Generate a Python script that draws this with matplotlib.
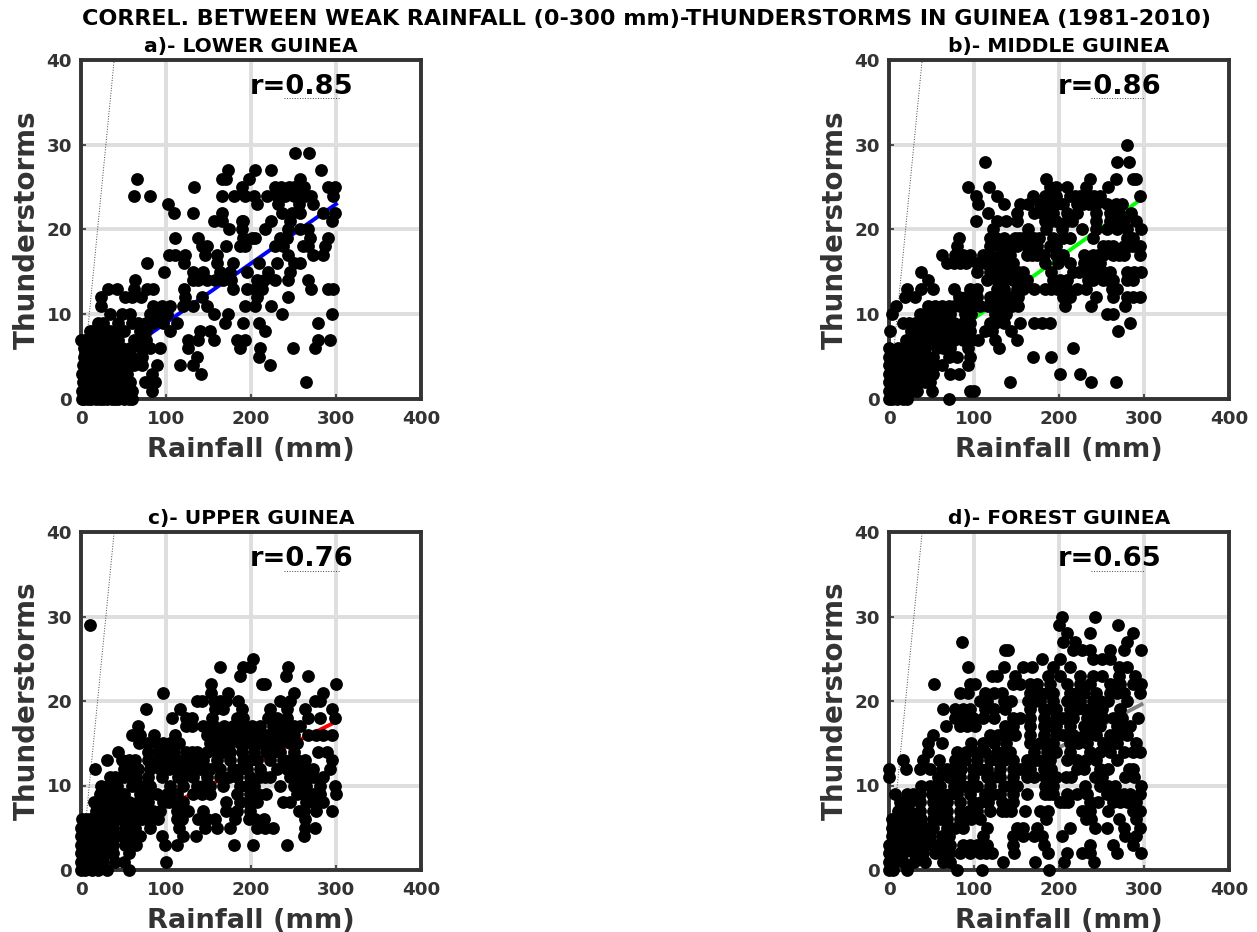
import matplotlib
matplotlib.use("Agg")
import matplotlib.pyplot as plt

W, H = 1257, 932
suptitle = "CORREL. BETWEEN WEAK RAINFALL (0-300 mm)-THUNDERSTORMS IN GUINEA (1981-2010)"
titles = ["a)- LOWER GUINEA", "b)- MIDDLE GUINEA", "c)- UPPER GUINEA", "d)- FOREST GUINEA"]
r_labels = ["r=0.85", "r=0.86", "r=0.76", "r=0.65"]
line_colors = ["#0000ff", "#00ff00", "#ff0000", "#808080"]
x_ticks = [0, 100, 200, 300, 400]
y_ticks = [0, 10, 20, 30, 40]

# Each list holds the rainfall values read at thunderstorm counts
lower_levels = [29, 27, 26, 25, 24, 23, 22, 21, 20, 19, 18, 17, 16, 15, 14, 13, 12, 11, 10, 9, 8, 7, 6, 5, 4, 3, 2, 1, 0]
lower_x = [
    [252, 268],
    [173, 205, 224, 282],
    [66, 166, 171, 198, 258],
    [133, 189, 228, 235, 245, 250, 255, 262, 291, 299],
    [62, 81, 166, 180, 193, 203, 219, 230, 240, 250, 258, 263, 271, 297],
    [102, 207, 232, 256, 273],
    [109, 132, 166, 236, 248, 258, 285, 299],
    [156, 166, 189, 191, 223, 246, 295],
    [174, 189, 216, 244, 258, 267],
    [111, 138, 191, 201, 205, 234, 242, 269, 291],
    [142, 148, 170, 187, 193, 228, 238, 261, 267, 287],
    [103, 111, 122, 146, 160, 244, 273, 285],
    [78, 121, 160, 179, 209, 230, 250, 258],
    [98, 132, 144, 164, 175, 195, 220, 246],
    [64, 132, 138, 148, 158, 167, 177, 207, 215, 228, 244, 267],
    [32, 42, 62, 78, 85, 121, 179, 195, 205, 213, 271, 291, 297],
    [24, 52, 60, 71, 122, 142, 207, 243],
    [24, 85, 95, 105, 120, 132, 148, 193, 205, 223],
    [34, 48, 58, 81, 89, 101, 156, 173, 236, 295],
    [20, 26, 44, 60, 67, 77, 85, 97, 113, 169, 191, 209, 279],
    [11, 18, 26, 34, 50, 69, 77, 105, 140, 152, 216],
    [0, 9, 16, 26, 34, 44, 69, 77, 126, 138, 156, 183, 193, 279, 293],
    [3, 13, 22, 32, 42, 58, 71, 81, 93, 126, 187, 211, 249, 275],
    [3, 10, 18, 28, 36, 46, 60, 72, 136, 209],
    [2, 8, 16, 24, 32, 40, 50, 58, 72, 89, 116, 132, 222],
    [1, 6, 14, 22, 30, 38, 46, 54, 83, 141],
    [2, 8, 14, 20, 28, 36, 44, 52, 75, 87, 265],
    [1, 5, 12, 18, 26, 34, 42, 50, 60, 83],
    [1, 4, 8, 12, 18, 22, 30, 36, 44, 50, 56],
]
lower_hidden_levels = [8, 7, 6, 5, 4, 3, 2, 1, 0]
lower_hidden_x = [
    [14, 30, 42],
    [5, 21, 39, 62],
    [8, 27, 48],
    [6, 23, 41, 52],
    [5, 20, 36, 46, 62],
    [3, 18, 34, 50],
    [5, 24, 40, 58],
    [8, 30, 46],
    [26, 40, 60],
]

middle_levels = [30, 28, 26, 25, 24, 23, 22, 21, 20, 19, 18, 17, 16, 15, 14, 13, 12, 11, 10, 9, 8, 7, 6, 5, 4, 3, 2, 1, 0]
middle_x = [
    [280],
    [113, 268, 282],
    [185, 236, 267, 287, 291],
    [93, 118, 189, 197, 209, 232, 258],
    [102, 127, 169, 183, 197, 213, 225, 236, 248, 295],
    [105, 135, 154, 164, 178, 189, 205, 221, 235, 244, 256, 274],
    [116, 150, 170, 180, 193, 209, 221, 244, 260, 270, 285],
    [102, 127, 138, 150, 183, 197, 209, 244, 260, 276, 291],
    [122, 164, 185, 203, 227, 244, 256, 268, 280, 297],
    [82, 119, 135, 148, 158, 170, 193, 205, 240, 287],
    [80, 119, 129, 138, 150, 162, 174, 189, 252, 264, 276, 287, 295],
    [62, 78, 87, 95, 111, 119, 142, 162, 174, 182, 205, 229, 240, 252, 264, 276, 295],
    [68, 76, 84, 91, 103, 113, 123, 135, 146, 184, 199, 213, 229, 236, 248],
    [38, 103, 119, 135, 146, 158, 191, 217, 233, 244, 260, 280, 297],
    [46, 115, 135, 146, 162, 193, 209, 240, 252, 264, 280, 287],
    [21, 38, 52, 76, 95, 103, 135, 150, 170, 184, 191, 209, 221, 268],
    [19, 31, 82, 91, 103, 119, 131, 142, 152, 205, 213, 244, 264, 280, 287, 295],
    [8, 46, 62, 70, 84, 95, 107, 127, 138, 152, 207, 238, 278],
    [3, 36, 52, 62, 72, 89, 129, 138, 256, 264],
    [17, 31, 42, 52, 64, 76, 87, 95, 119, 135, 154, 170, 180, 189, 284],
    [1, 33, 44, 60, 72, 84, 95, 113, 144, 269],
    [25, 36, 48, 64, 76, 87, 105, 125, 150],
    [0, 17, 29, 42, 56, 72, 93, 129, 216],
    [0, 9, 19, 29, 40, 52, 70, 95, 169, 191],
    [0, 7, 17, 27, 36, 48, 62, 93],
    [0, 7, 17, 27, 36, 52, 72, 82, 201, 225],
    [0, 7, 17, 27, 42, 48, 142, 238, 267],
    [0, 5, 13, 21, 33, 50, 95, 100],
    [0, 3, 9, 17, 21, 70],
]
middle_hidden_levels = [24, 23, 21, 19, 18, 17, 15, 14, 13, 11, 10, 9, 8, 7, 6, 5, 4, 3, 2, 1]
middle_hidden_x = [
    [190, 219, 241],
    [197, 228, 267],
    [190, 215, 268],
    [126, 153, 176, 213, 280],
    [144, 168, 196, 258, 282],
    [130, 168, 196, 246, 270],
    [127, 152, 224, 252, 288],
    [127, 154, 201, 234, 258],
    [127, 158, 198, 232, 262],
    [54, 77, 116, 145],
    [44, 58, 96, 125],
    [24, 47, 70, 125],
    [26, 50, 78, 121],
    [20, 56, 96],
    [11, 35, 64],
    [5, 24, 46, 80],
    [12, 31, 54],
    [12, 31, 44],
    [12, 34],
    [9, 27],
]

upper_levels = [29, 25, 24, 23, 22, 21, 20, 19, 18, 17, 16, 15, 14, 13, 12, 11, 10, 9, 8, 7, 6, 5, 4, 3, 2, 1, 0]
upper_x = [
    [11],
    [202],
    [164, 191, 199, 244],
    [187, 241, 267],
    [153, 213, 216, 300],
    [96, 153, 173, 250, 285],
    [136, 142, 156, 164, 171, 185, 234, 246, 275, 281],
    [76, 116, 158, 167, 189, 222, 242, 264, 295],
    [107, 124, 130, 154, 183, 191, 220, 230, 242, 267, 281, 299],
    [67, 124, 130, 144, 156, 168, 179, 191, 201, 211, 226, 238, 250, 258],
    [60, 69, 86, 111, 148, 160, 171, 183, 195, 207, 218, 230, 242, 250, 267, 277, 285, 295],
    [68, 79, 89, 105, 115, 152, 164, 175, 187, 199, 211, 222, 234, 246],
    [44, 79, 101, 109, 130, 136, 148, 160, 175, 189, 203, 218, 234, 250, 279, 289],
    [31, 48, 56, 64, 79, 91, 109, 120, 132, 144, 160, 175, 191, 207, 222, 238, 254, 264, 295],
    [16, 50, 60, 67, 81, 93, 116, 128, 140, 152, 164, 179, 195, 211, 230, 242, 254, 273, 293],
    [34, 40, 50, 65, 79, 95, 120, 132, 148, 164, 183, 199, 211, 222, 246, 258, 273, 285],
    [24, 42, 60, 73, 81, 105, 120, 136, 152, 167, 187, 203, 234, 250, 265, 281, 299],
    [22, 30, 40, 50, 69, 89, 101, 113, 132, 152, 183, 199, 218, 254, 273, 281, 300],
    [15, 24, 34, 44, 56, 67, 79, 97, 109, 120, 171, 187, 207, 238, 246, 265, 285],
    [18, 28, 38, 50, 64, 77, 93, 113, 126, 144, 171, 183, 199, 256, 277, 295],
    [1, 11, 20, 30, 40, 52, 65, 79, 91, 113, 138, 148, 158, 181, 205, 215, 264],
    [0, 9, 18, 28, 38, 52, 64, 81, 115, 146, 160, 175, 207, 216, 226, 264, 275],
    [0, 9, 18, 30, 42, 56, 69, 95, 120, 135, 262],
    [0, 7, 16, 26, 38, 52, 65, 99, 113, 180, 202, 242],
    [0, 7, 15, 26, 38, 56],
    [0, 7, 15, 26, 40, 50, 100],
    [0, 5, 13, 20, 30, 57],
]
upper_hidden_levels = [16, 15, 14, 13, 12, 11, 10, 9, 8, 7, 6, 5, 4, 3, 2, 1]
upper_hidden_x = [
    [154, 189, 224],
    [96, 158, 205, 254],
    [90, 124, 167, 226],
    [100, 138, 199, 246],
    [104, 146, 187, 264],
    [58, 114, 174, 217, 266],
    [32, 66, 144, 195, 258],
    [46, 78, 107, 142, 208, 262],
    [29, 50, 73, 103, 196, 272],
    [33, 57, 85, 120, 262],
    [6, 25, 46, 72, 119, 198],
    [14, 33, 58],
    [5, 24, 49],
    [12, 32],
    [11, 32],
    [4, 20],
]

forest_levels = [30, 29, 28, 27, 26, 25, 24, 23, 22, 21, 20, 19, 18, 17, 16, 15, 14, 13, 12, 11, 10, 9, 8, 7, 6, 5, 4, 3, 2, 1, 0]
forest_x = [
    [204, 242],
    [200, 269],
    [209, 236, 287],
    [86, 205, 219, 280],
    [136, 140, 217, 227, 236, 260, 276, 297],
    [180, 201, 240, 250, 260],
    [93, 135, 158, 168, 193, 213, 270, 280],
    [121, 127, 148, 187, 201, 225, 240, 250, 270, 289],
    [53, 95, 101, 146, 154, 166, 174, 189, 209, 225, 236, 260, 272, 287, 297],
    [83, 93, 113, 123, 133, 166, 178, 193, 213, 229, 244, 260, 276, 295],
    [107, 115, 135, 144, 164, 178, 193, 209, 225, 240, 248, 280],
    [63, 78, 87, 95, 113, 123, 136, 166, 182, 197, 213, 229, 240, 272],
    [78, 91, 99, 111, 123, 146, 154, 166, 182, 197, 217, 233, 252, 264, 293],
    [67, 83, 101, 136, 146, 166, 182, 197, 213, 229, 248, 268, 284],
    [52, 119, 138, 148, 166, 182, 197, 217, 229, 244, 260, 280],
    [46, 62, 111, 123, 138, 166, 178, 193, 213, 233, 252, 268, 291],
    [46, 80, 101, 113, 127, 142, 170, 186, 213, 236, 260, 276, 287, 295],
    [17, 40, 59, 89, 103, 119, 135, 146, 162, 174, 189, 209, 221, 244, 268],
    [0, 20, 36, 48, 62, 74, 85, 99, 115, 131, 146, 166, 182, 221, 229, 248, 282, 287],
    [0, 58, 70, 84, 99, 115, 131, 146, 162, 184, 197, 214, 242, 250, 278],
    [38, 48, 60, 76, 87, 103, 119, 135, 150, 184, 193, 231, 248, 266, 297],
    [7, 21, 36, 50, 64, 80, 95, 113, 131, 146, 162, 184, 193, 209, 221, 233, 256, 268, 284, 295],
    [13, 25, 36, 52, 68, 84, 99, 117, 133, 146, 201, 211, 236, 246, 264, 280, 291],
    [11, 23, 36, 52, 68, 84, 103, 119, 133, 144, 160, 178, 187, 227, 236, 258, 287, 295],
    [3, 13, 25, 38, 52, 68, 84, 97, 107, 185, 238, 270, 291],
    [3, 13, 25, 36, 52, 68, 87, 115, 150, 174, 213, 242, 256, 276, 295],
    [3, 13, 23, 35, 48, 62, 111, 146, 158, 170, 204, 278, 291],
    [0, 9, 21, 32, 44, 56, 72, 87, 103, 115, 146, 182, 236, 264, 287],
    [0, 7, 17, 29, 40, 54, 70, 84, 95, 107, 121, 147, 187, 209, 227, 236, 268, 297],
    [0, 7, 17, 29, 42, 64, 72, 134, 172, 206, 241],
    [0, 5, 21, 80, 109, 188],
]
forest_hidden_levels = [21, 20, 19, 18, 17, 16, 15, 14, 13, 12, 11, 10, 9, 8, 7, 6, 5, 4, 3, 2]
forest_hidden_x = [
    [186, 221, 268],
    [172, 217, 258],
    [190, 221, 250],
    [205, 243, 274],
    [92, 190, 238, 276],
    [128, 205, 237, 270],
    [96, 186, 222, 260],
    [90, 134, 197, 248],
    [78, 127, 182, 232],
    [68, 107, 154, 190, 258],
    [77, 123, 170, 208, 288],
    [54, 95, 142, 190, 258],
    [28, 72, 122, 188, 276],
    [19, 60, 108, 206, 272],
    [17, 60, 94, 138, 232],
    [8, 32, 60, 91, 232],
    [19, 44, 78, 158],
    [18, 42, 70, 180],
    [15, 38, 64, 95],
    [12, 35, 62, 114],
]

panel_levels = [lower_levels, middle_levels, upper_levels, forest_levels]
panel_x = [lower_x, middle_x, upper_x, forest_x]
panel_hidden_levels = [lower_hidden_levels, middle_hidden_levels, upper_hidden_levels, forest_hidden_levels]
panel_hidden_x = [lower_hidden_x, middle_hidden_x, upper_hidden_x, forest_hidden_x]

# Least-squares lines: rainfall end points and thunderstorm values
fit_x = [[50, 300], [100, 297], [89, 297], [183, 297]]
fit_y = [[5.5, 23], [9.5, 23.6], [6.9, 17.4], [13.6, 19.6]]
ref_x = [0, 39]
ref_y = [0, 40]
dot_x = [[239, 303], [238, 301], [239, 303], [238, 301]]
dot_y = [35.5, 35.5, 35.4, 35.4]

boxes = [(81, 60, 421, 399), (889, 60, 1229, 399), (81, 532, 421, 870), (889, 532, 1229, 870)]
dark = "#333333"

fig = plt.figure(figsize=(W / 100, H / 100), dpi=100)
plt.rcParams["font.family"] = "DejaVu Sans"
fig.text(646 / W, 1 - 19 / H, suptitle, ha="center", va="center", fontsize=16, fontweight="bold", color="black")

for i, (l, t, r, b) in enumerate(boxes):
    ax = fig.add_axes([l / W, 1 - b / H, (r - l) / W, (b - t) / H])
    ax.set_xlim(0, 400)
    ax.set_ylim(0, 40)
    ax.set_axisbelow(True)
    ax.grid(True, color="#dedede", linewidth=2.8)
    ax.plot(ref_x, ref_y, color="#444444", linestyle=":", linewidth=0.7, zorder=2)
    ax.plot(dot_x[i], [dot_y[i], dot_y[i]], color="#444444", linestyle=":", linewidth=0.7, zorder=2)
    ax.plot(fit_x[i], fit_y[i], color=line_colors[i], linewidth=2.8, zorder=2)
    xs, ys = [], []
    for level, row in zip(panel_levels[i] + panel_hidden_levels[i], panel_x[i] + panel_hidden_x[i]):
        xs.extend(row)
        ys.extend([level] * len(row))
    ax.scatter(xs, ys, s=85, color="black", linewidths=0, zorder=3, clip_on=False)
    for s in ax.spines.values():
        s.set_linewidth(2.8)
        s.set_color(dark)
        s.set_zorder(2.5)
    ax.set_xticks(x_ticks)
    ax.set_yticks(y_ticks)
    ax.tick_params(axis="y", direction="in", length=3.4, width=1.2, color=dark, labelcolor=dark,
                   labelsize=13.2, pad=6.5)
    ax.tick_params(axis="x", direction="in", length=3.4, width=1.2, color=dark, labelcolor=dark,
                   labelsize=13.2, pad=8)
    for lab in ax.get_xticklabels() + ax.get_yticklabels():
        lab.set_fontweight("bold")
    ax.set_xlabel("Rainfall (mm)", fontsize=19.6, fontweight="bold", color=dark, labelpad=6.5)
    ax.set_ylabel("Thunderstorms", fontsize=20, fontweight="bold", color=dark, labelpad=4)
    ax.set_title(titles[i], fontsize=14.6, fontweight="bold", color="black", pad=5.8)
    ax.text(199, 36.8, r_labels[i], fontsize=19.7, fontweight="bold", color="black", va="center", zorder=4)

fig.savefig("out.png", dpi=100)
